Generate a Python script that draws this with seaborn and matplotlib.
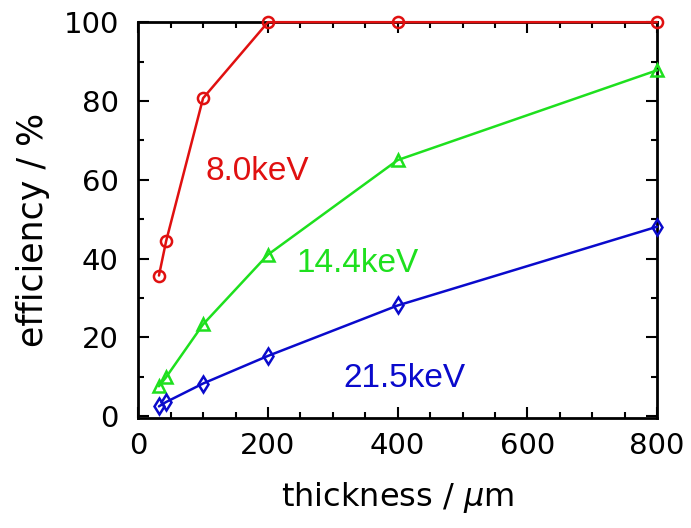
import matplotlib
matplotlib.use("Agg")
import matplotlib.pyplot as plt
import seaborn as sns
import pandas as pd
from matplotlib.ticker import MultipleLocator

# thickness in micrometres
thickness = [32, 43, 100, 200, 400, 800]
eff_8keV = [35.7, 44.4, 80.7, 100.0, 100.0, 100.0]
eff_14keV = [7.6, 9.9, 23.3, 41.0, 65.0, 87.8]
eff_21keV = [2.5, 3.6, 8.3, 15.3, 28.1, 48.1]

series = [
    ("8.0keV", eff_8keV, "#e01010", "o", 8, (184, 62.0)),
    ("14.4keV", eff_14keV, "#1ee01e", "^", 8, (338, 38.8)),
    ("21.5keV", eff_21keV, "#0a0acc", "d", 8.5, (411, 9.6)),
]

sns.set_style("ticks")
plt.rcParams["font.family"] = ["DejaVu Sans"]

fig = plt.figure(figsize=(6.91, 5.28), dpi=100)
ax = fig.add_axes([0.2, 0.208, 0.751, 0.75])

for label, vals, color, marker, ms, pos in series:
    df = pd.DataFrame({"thickness": thickness, "efficiency": vals})
    sns.lineplot(data=df, x="thickness", y="efficiency", ax=ax, color=color,
                 marker=marker, markersize=ms, markerfacecolor="none",
                 markeredgecolor=color, markeredgewidth=1.8, linewidth=1.8,
                 clip_on=False, zorder=3)
    ax.text(pos[0], pos[1], label, color=color, fontsize=24,
            family="Liberation Sans", ha="center", va="center")

ax.set_xlim(0, 800)
ax.set_ylim(-0.5, 100)
ax.xaxis.set_major_locator(MultipleLocator(200))
ax.xaxis.set_minor_locator(MultipleLocator(50))
ax.yaxis.set_major_locator(MultipleLocator(20))
ax.yaxis.set_minor_locator(MultipleLocator(10))
ax.tick_params(which="both", direction="in", top=True, right=True,
               labelsize=21, width=1.5, colors="black")
ax.tick_params(axis="x", pad=10)
ax.tick_params(axis="y", pad=14)
ax.tick_params(which="major", length=8)
ax.tick_params(which="minor", length=4)
for s in ax.spines.values():
    s.set_linewidth(2)
    s.set_color("black")

ax.set_xlabel(r"thickness / $\mu$m", fontsize=23, color="black", labelpad=14)
ax.set_ylabel("efficiency / %", fontsize=25, color="black")
ax.yaxis.set_label_coords(-0.17, 0.475)

fig.savefig("out.png", dpi=100)
